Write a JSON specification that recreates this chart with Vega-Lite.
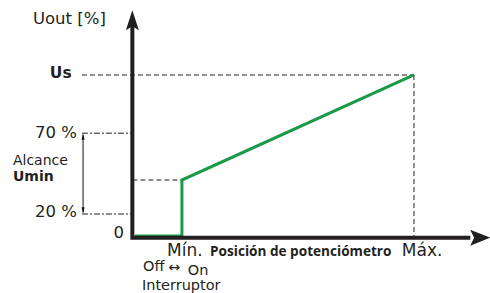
{
  "$schema": "https://vega.github.io/schema/vega-lite/v6.json",
  "width": 490,
  "height": 293,
  "padding": 0,
  "autosize": {"type": "none"},
  "background": "white",
  "config": {"view": {"stroke": null}, "font": "DejaVu Sans"},
  "datasets": {
    "dash": [
      {"seg": "us", "o": 1, "x": -17.9, "y": 100},
      {"seg": "us", "o": 2, "x": 100, "y": 100},
      {"seg": "max", "o": 1, "x": 100, "y": 100},
      {"seg": "max", "o": 2, "x": 100, "y": 0},
      {"seg": "bend", "o": 1, "x": 0, "y": 35.4},
      {"seg": "bend", "o": 2, "x": 17.6, "y": 35.4}
    ],
    "dashdot": [
      {"seg": "70", "o": 1, "x": -17.9, "y": 64.2},
      {"seg": "70", "o": 2, "x": 0, "y": 64.2},
      {"seg": "20", "o": 1, "x": -17.9, "y": 14.5},
      {"seg": "20", "o": 2, "x": 0, "y": 14.5}
    ],
    "green": [
      {"o": 1, "x": 0.9, "y": 1},
      {"o": 2, "x": 17.6, "y": 1},
      {"o": 3, "x": 17.6, "y": 35.4},
      {"o": 4, "x": 100, "y": 100}
    ],
    "axes": [
      {"o": 1, "x": 0, "y": 132},
      {"o": 2, "x": 0, "y": 0},
      {"o": 3, "x": 120, "y": 0}
    ],
    "range": [
      {"o": 1, "x": -17.5, "y": 15.5},
      {"o": 2, "x": -17.5, "y": 63.3}
    ],
    "arrowUp": [{"x": 0, "y": 133.5}],
    "arrowRight": [{"x": 123.5, "y": 0}],
    "rangeUp": [{"x": -17.5, "y": 62}],
    "rangeDown": [{"x": -17.5, "y": 16.8}],
    "textLeft": [
      {"x": -35.3, "y": 134.3, "t": "Uout [%]", "s": 16.5},
      {"x": -42.4, "y": 47, "t": "Alcance", "s": 14},
      {"x": 12.3, "y": -8.5, "t": "Mín.", "s": 17},
      {"x": 95.7, "y": -8.5, "t": "Máx.", "s": 17},
      {"x": 3.8, "y": -17.8, "t": "Off", "s": 14.5},
      {"x": 12.8, "y": -18.6, "t": "↔", "s": 14},
      {"x": 19.7, "y": -20.5, "t": "On", "s": 14.5},
      {"x": 3.4, "y": -29.7, "t": "Interruptor", "s": 14.5}
    ],
    "textRight": [
      {"x": -19.7, "y": 64.6, "t": "70 %", "s": 16.5},
      {"x": -19.7, "y": 15.5, "t": "20 %", "s": 16.5},
      {"x": -3.0, "y": 2.8, "t": "0", "s": 16.5}
    ],
    "textBold": [
      {"x": -29.3, "y": 101.1, "t": "Us", "s": 15.5},
      {"x": -42.4, "y": 37.2, "t": "Umin", "s": 14}
    ],
    "textBoldNarrow": [
      {"x": 27.6, "y": -8.8, "t": "Posición de potenciómetro", "s": 13.6}
    ]
  },
  "encoding": {
    "x": {"field": "x", "type": "quantitative", "scale": {"domain": [-47, 127], "nice": false, "zero": false}, "axis": null},
    "y": {"field": "y", "type": "quantitative", "scale": {"domain": [-34, 146], "nice": false, "zero": false}, "axis": null}
  },
  "layer": [
    {
      "data": {"name": "dash"},
      "mark": {"type": "line", "color": "#6b6b6b", "strokeWidth": 1.5, "strokeDash": [5, 3]},
      "encoding": {"detail": {"field": "seg"}, "order": {"field": "o"}}
    },
    {
      "data": {"name": "dashdot"},
      "mark": {"type": "line", "color": "#6b6b6b", "strokeWidth": 1.5, "strokeDash": [6, 2, 2, 2]},
      "encoding": {"detail": {"field": "seg"}, "order": {"field": "o"}}
    },
    {
      "data": {"name": "range"},
      "mark": {"type": "line", "color": "#111111", "strokeWidth": 1},
      "encoding": {"order": {"field": "o"}}
    },
    {
      "data": {"name": "rangeUp"},
      "mark": {"type": "point", "filled": true, "opacity": 1, "color": "#111111", "shape": "M0,-1L0.5,1L-0.5,1Z", "size": 36}
    },
    {
      "data": {"name": "rangeDown"},
      "mark": {"type": "point", "filled": true, "opacity": 1, "color": "#111111", "shape": "M0,1L0.5,-1L-0.5,-1Z", "size": 36}
    },
    {
      "data": {"name": "green"},
      "mark": {"type": "line", "color": "#1a9a48", "strokeWidth": 3, "strokeJoin": "miter"},
      "encoding": {"order": {"field": "o"}}
    },
    {
      "data": {"name": "axes"},
      "mark": {"type": "line", "color": "#231f20", "strokeWidth": 4, "strokeJoin": "miter", "strokeCap": "butt"},
      "encoding": {"order": {"field": "o"}}
    },
    {
      "data": {"name": "arrowUp"},
      "mark": {"type": "point", "filled": true, "opacity": 1, "color": "#231f20", "shape": "M0,-1L0.65,1L0,0.6L-0.65,1Z", "size": 400}
    },
    {
      "data": {"name": "arrowRight"},
      "mark": {"type": "point", "filled": true, "opacity": 1, "color": "#231f20", "shape": "M1,0L-1,0.8L-0.6,0L-1,-0.8Z", "size": 400}
    },
    {
      "data": {"name": "textLeft"},
      "mark": {"type": "text", "align": "left", "baseline": "middle", "color": "#231f20"},
      "encoding": {"text": {"field": "t"}, "size": {"field": "s", "type": "quantitative", "scale": null}}
    },
    {
      "data": {"name": "textRight"},
      "mark": {"type": "text", "align": "right", "baseline": "middle", "color": "#231f20"},
      "encoding": {"text": {"field": "t"}, "size": {"field": "s", "type": "quantitative", "scale": null}}
    },
    {
      "data": {"name": "textBold"},
      "mark": {"type": "text", "align": "left", "baseline": "middle", "fontWeight": "bold", "color": "#231f20"},
      "encoding": {"text": {"field": "t"}, "size": {"field": "s", "type": "quantitative", "scale": null}}
    },
    {
      "data": {"name": "textBoldNarrow"},
      "mark": {"type": "text", "align": "left", "baseline": "middle", "fontWeight": "bold", "font": "Open Sans", "color": "#231f20"},
      "encoding": {"text": {"field": "t"}, "size": {"field": "s", "type": "quantitative", "scale": null}}
    }
  ]
}
